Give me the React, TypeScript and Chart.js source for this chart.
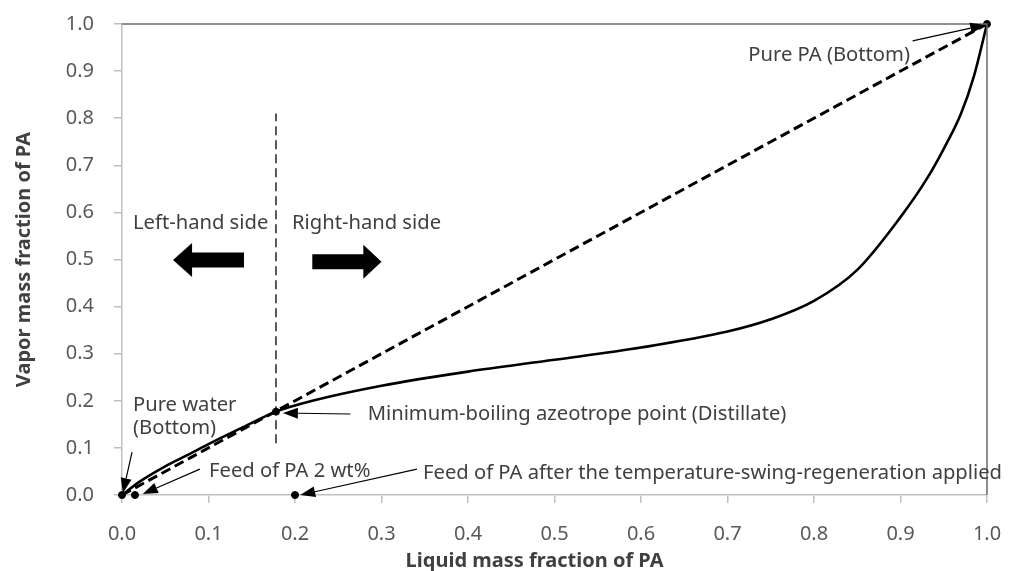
import { useEffect, useRef } from "react";
import { Chart, registerables } from "chart.js";

Chart.register(...registerables);

// ---- data ----
const curveX = [0, 0.02, 0.05, 0.08, 0.1, 0.14, 0.178, 0.22, 0.3, 0.4, 0.5, 0.6, 0.7, 0.75, 0.8, 0.85, 0.9, 0.93, 0.95, 0.97, 0.985, 1.0];
const curveY = [0, 0.028, 0.061, 0.089, 0.108, 0.144, 0.177, 0.2, 0.232, 0.262, 0.287, 0.313, 0.347, 0.373, 0.412, 0.478, 0.59, 0.67, 0.735, 0.81, 0.89, 1.0];
const diagonalX = [0, 1];
const diagonalY = [0, 1];
const frameX = [0, 1, 1];
const frameY = [1, 1, 0];
const markerX = [0, 0.015, 0.2, 0.178, 1];
const markerY = [0, 0, 0, 0.177, 1];
const boundaryX = [0.178, 0.178];
const boundaryY = [0.11, 0.81];
const axisMin = 0;
const axisMax = 1;
const axisStep = 0.1;
const xTitle = "Liquid mass fraction of PA";
const yTitle = "Vapor mass fraction of PA";

const labels = [
  { text: "Pure PA (Bottom)", x: 0.911, y: 0.934, align: "right" },
  { text: "Minimum-boiling azeotrope point (Distillate)", x: 0.284, y: 0.172, align: "left" },
  { text: "Pure water", x: 0.0127, y: 0.191, align: "left" },
  { text: "(Bottom)", x: 0.0127, y: 0.142, align: "left" },
  { text: "Feed of PA 2 wt%", x: 0.1006, y: 0.051, align: "left" },
  { text: "Feed of PA after the temperature-swing-regeneration applied", x: 0.348, y: 0.047, align: "left" },
  { text: "Left-hand side", x: 0.0127, y: 0.577, align: "left" },
  { text: "Right-hand side", x: 0.1965, y: 0.577, align: "left" },
];

const arrows = [
  { x1: 0.914, y1: 0.964, x2: 0.998, y2: 0.998 },
  { x1: 0.264, y1: 0.172, x2: 0.186, y2: 0.174 },
  { x1: 0.0116, y1: 0.091, x2: 0.001, y2: 0.004 },
  { x1: 0.09, y1: 0.055, x2: 0.024, y2: 0.002 },
  { x1: 0.341, y1: 0.055, x2: 0.206, y2: 0.0 },
];

const blockArrows = [
  { tail: 0.141, headBase: 0.081, tip: 0.059, y: 0.499 },
  { tail: 0.22, headBase: 0.279, tip: 0.3, y: 0.495 },
];

const toPts = (xs: number[], ys: number[]) => xs.map((x, i) => ({ x, y: ys[i] }));

const FONT = "'Noto Sans', sans-serif";

const annotationPlugin = {
  id: "annotations",
  afterDatasetsDraw(chart: any) {
    const { ctx, scales, chartArea } = chart;
    const xs = scales.x;
    const ys = scales.y;
    ctx.save();
    // texts
    ctx.fillStyle = "#404040";
    ctx.font = `20.2px ${FONT}`;
    ctx.textBaseline = "middle";
    labels.forEach((l) => {
      ctx.textAlign = l.align as CanvasTextAlign;
      ctx.fillText(l.text, xs.getPixelForValue(l.x), ys.getPixelForValue(l.y));
    });
    // thin arrows
    ctx.strokeStyle = "#000";
    ctx.fillStyle = "#000";
    ctx.lineWidth = 1.2;
    arrows.forEach((a) => {
      const x1 = xs.getPixelForValue(a.x1);
      const y1 = ys.getPixelForValue(a.y1);
      const x2 = xs.getPixelForValue(a.x2);
      const y2 = ys.getPixelForValue(a.y2);
      const ang = Math.atan2(y2 - y1, x2 - x1);
      const len = 15;
      const hw = 5.5;
      const bx = x2 - len * Math.cos(ang);
      const by = y2 - len * Math.sin(ang);
      ctx.beginPath();
      ctx.moveTo(x1, y1);
      ctx.lineTo(bx, by);
      ctx.stroke();
      ctx.beginPath();
      ctx.moveTo(x2, y2);
      ctx.lineTo(bx + hw * Math.sin(ang), by - hw * Math.cos(ang));
      ctx.lineTo(bx - hw * Math.sin(ang), by + hw * Math.cos(ang));
      ctx.closePath();
      ctx.fill();
    });
    // block arrows
    blockArrows.forEach((b) => {
      const cy = ys.getPixelForValue(b.y);
      const tail = xs.getPixelForValue(b.tail);
      const hb = xs.getPixelForValue(b.headBase);
      const tip = xs.getPixelForValue(b.tip);
      const bodyH = 7.5;
      const headH = 17;
      ctx.beginPath();
      ctx.moveTo(tail, cy - bodyH);
      ctx.lineTo(hb, cy - bodyH);
      ctx.lineTo(hb, cy - headH);
      ctx.lineTo(tip, cy);
      ctx.lineTo(hb, cy + headH);
      ctx.lineTo(hb, cy + bodyH);
      ctx.lineTo(tail, cy + bodyH);
      ctx.closePath();
      ctx.fill();
    });
    // axis titles
    ctx.fillStyle = "#404040";
    ctx.font = `bold 20px ${FONT}`;
    ctx.textAlign = "center";
    ctx.textBaseline = "alphabetic";
    ctx.fillText(xTitle, chartArea.left + chartArea.width * 0.477, 567);
    ctx.translate(30, (chartArea.top + chartArea.bottom) / 2);
    ctx.rotate(-Math.PI / 2);
    ctx.fillText(yTitle, 0, 0);
    ctx.restore();
  },
};

export default function App() {
  const ref = useRef<HTMLCanvasElement>(null);
  useEffect(() => {
    if (!ref.current) return;
    const axisCommon = (fit: (s: any) => void) => ({
      type: "linear" as const,
      min: axisMin,
      max: axisMax,
      afterFit: fit,
      ticks: {
        stepSize: axisStep,
        color: "#595959",
        font: { size: 20, family: FONT },
        callback: (v: any) => Number(v).toFixed(1),
      },
      grid: {
        display: true,
        drawOnChartArea: false,
        drawTicks: true,
        tickLength: 8,
        color: "#bfbfbf",
        lineWidth: 1.5,
      },
      border: { display: true, color: "#bfbfbf", width: 1.5 },
    });
    const xAxis: any = axisCommon((s: any) => {
      s.height = 76;
      s.paddingLeft = 0;
      s.paddingRight = 0;
      s.paddingTop = 0;
      s.paddingBottom = 0;
    });
    xAxis.ticks.padding = 19;
    const yAxis: any = axisCommon((s: any) => {
      s.width = 122;
      s.paddingLeft = 0;
      s.paddingRight = 0;
      s.paddingTop = 0;
      s.paddingBottom = 0;
    });
    yAxis.ticks.padding = 20;
    const chart = new Chart(ref.current, {
      type: "scatter",
      data: {
        datasets: [
          {
            data: toPts(frameX, frameY),
            showLine: true,
            borderColor: "#6b6b6b",
            borderWidth: 1.5,
            pointRadius: 0,
          },
          {
            data: toPts(boundaryX, boundaryY),
            showLine: true,
            borderColor: "#000",
            borderWidth: 1.3,
            borderDash: [9, 5],
            pointRadius: 0,
          },
          {
            data: toPts(diagonalX, diagonalY),
            showLine: true,
            borderColor: "#000",
            borderWidth: 3,
            borderDash: [10, 5],
            pointRadius: 0,
          },
          {
            data: toPts(curveX, curveY),
            showLine: true,
            borderColor: "#000",
            borderWidth: 2.6,
            cubicInterpolationMode: "monotone",
            pointRadius: 0,
          },
          {
            data: toPts(markerX, markerY),
            showLine: false,
            backgroundColor: "#000",
            borderColor: "#000",
            pointRadius: 3.5,
          },
        ],
      },
      options: {
        responsive: false,
        animation: false,
        clip: false as any,
        layout: { padding: { top: 24, right: 27, left: 0, bottom: 0 } },
        plugins: { legend: { display: false }, tooltip: { enabled: false }, title: { display: false } },
        scales: { x: xAxis, y: yAxis },
      },
      plugins: [annotationPlugin],
    });
    return () => chart.destroy();
  }, []);
  return (
    <div style={{ position: "fixed", left: 0, top: 0, width: 1014, height: 571, background: "#fff" }}>
      <canvas ref={ref} width={1014} height={571} style={{ display: "block" }} />
    </div>
  );
}
